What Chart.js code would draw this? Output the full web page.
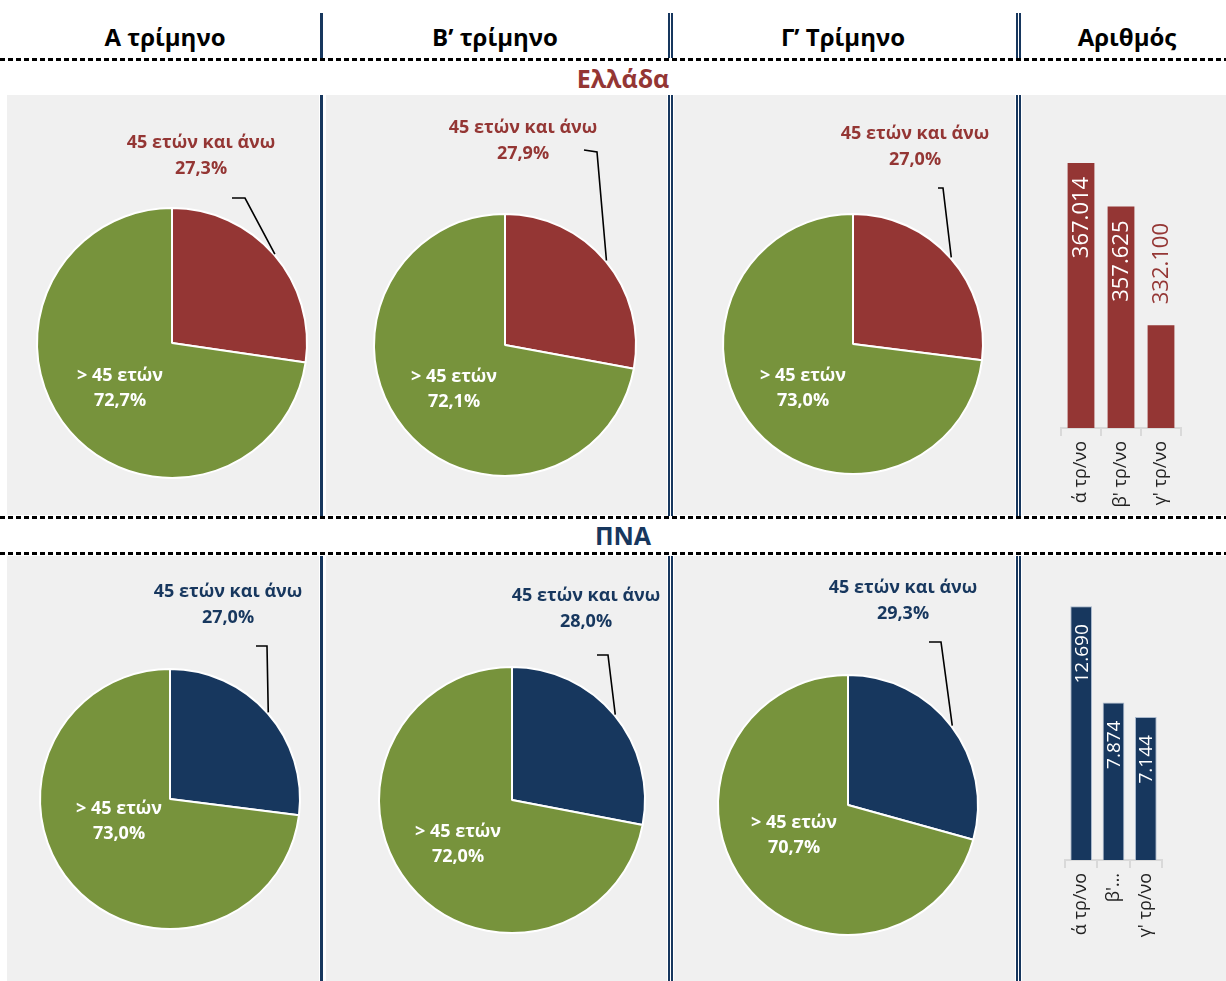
<!DOCTYPE html>
<html><head><meta charset="utf-8">
<script src="https://cdn.jsdelivr.net/npm/chart.js"></script>
<style>
  body { margin: 0; background: #fff; font-family: "Open Sans", sans-serif; }
  #page { position: relative; width: 1226px; height: 981px; overflow: hidden; background: #fff; }
  .panel { position: absolute; background: #f0f0f0; }
  .hdr { position: absolute; top: 20px; font-weight: bold; font-size: 24px; color: #000; text-align: center; white-space: nowrap; }
  .region { position: absolute; left: 18px; width: 1210px; font-weight: bold; font-size: 25px; text-align: center; }
  .dash { position: absolute; left: 0; width: 1226px; height: 3px;
    background: repeating-linear-gradient(to right, #000 0 5px, transparent 5px 8px); }
  .vline { position: absolute; background: #17375e; }
  canvas { position: absolute; }
</style>
</head>
<body>
<div id="page">
  <div class="panel" style="left:7px;top:95px;width:312px;height:420px"></div>
  <div class="panel" style="left:326px;top:95px;width:341px;height:420px"></div>
  <div class="panel" style="left:674px;top:95px;width:341px;height:420px"></div>
  <div class="panel" style="left:1022px;top:95px;width:204px;height:420px"></div>
  <div class="panel" style="left:7px;top:556px;width:312px;height:425px"></div>
  <div class="panel" style="left:326px;top:556px;width:341px;height:425px"></div>
  <div class="panel" style="left:674px;top:556px;width:341px;height:425px"></div>
  <div class="panel" style="left:1022px;top:556px;width:204px;height:425px"></div>

  <div id="headers"></div>
  <div class="dash" style="top:58px"></div>
  <div class="region" style="top:61px;color:#943634">Ελλάδα</div>
  <div class="dash" style="top:516px"></div>
  <div class="region" style="top:518px;color:#17375e">ΠΝΑ</div>
  <div class="dash" style="top:552px"></div>

  <div class="vline" style="left:320px;top:13px;width:3px;height:45px"></div>
  <div class="vline" style="left:320px;top:95px;width:3px;height:421px"></div>
  <div class="vline" style="left:320px;top:556px;width:3px;height:425px"></div>
  <div class="vline" style="left:668px;top:13px;width:2px;height:45px"></div>
  <div class="vline" style="left:671px;top:13px;width:2px;height:45px"></div>
  <div class="vline" style="left:668px;top:95px;width:2px;height:421px"></div>
  <div class="vline" style="left:671px;top:95px;width:2px;height:421px"></div>
  <div class="vline" style="left:668px;top:556px;width:2px;height:425px"></div>
  <div class="vline" style="left:671px;top:556px;width:2px;height:425px"></div>
  <div class="vline" style="left:1016px;top:13px;width:2px;height:45px"></div>
  <div class="vline" style="left:1019px;top:13px;width:2px;height:45px"></div>
  <div class="vline" style="left:1016px;top:95px;width:2px;height:421px"></div>
  <div class="vline" style="left:1019px;top:95px;width:2px;height:421px"></div>
  <div class="vline" style="left:1016px;top:556px;width:2px;height:425px"></div>
  <div class="vline" style="left:1019px;top:556px;width:2px;height:425px"></div>
</div>

<script>
// column headers
const columnTitles = ['Α τρίμηνο', 'Β’ τρίμηνο', 'Γ’ Τρίμηνο', 'Αριθμός'];

// pie slices: first = 45 and over, second = the rest
const sliceLabels = ['45 ετών και άνω', '> 45 ετών'];
const greeceOver45 = [27.3, 27.9, 27.0];
const greeceRest = [72.7, 72.1, 73.0];
const pnaOver45 = [27.0, 28.0, 29.3];
const pnaRest = [73.0, 72.0, 70.7];

// bar charts (counts per quarter)
const greeceBarLabels = ["ά τρ/νο", "β' τρ/νο", "γ' τρ/νο"];
const greeceCounts = [367014, 357625, 332100];
const pnaBarLabels = ["ά τρ/νο", "β'…", "γ' τρ/νο"];
const pnaCounts = [12690, 7874, 7144];

const RED = '#943634', GREEN = '#77933c', NAVY = '#17375e';
const FONT = '"Open Sans", sans-serif';

const page = document.getElementById('page');
const hdrCenters = [165, 495, 843, 1127];
columnTitles.forEach((t, i) => {
  const d = document.createElement('div');
  d.className = 'hdr';
  d.textContent = t;
  d.style.left = (hdrCenters[i] - 100) + 'px';
  d.style.width = '200px';
  page.appendChild(d);
});

function makeCanvas(x, y, w, h) {
  const c = document.createElement('canvas');
  c.width = w; c.height = h;
  c.style.left = x + 'px'; c.style.top = y + 'px';
  c.style.width = w + 'px'; c.style.height = h + 'px';
  page.appendChild(c);
  return c;
}

const pct = v => v.toFixed(1).replace('.', ',') + '%';
const thousands = v => String(v).replace(/\B(?=(\d{3})+(?!\d))/g, '.');

// labels + leader line for pies
const pieLabels = {
  id: 'pieLabels',
  afterDatasetsDraw(chart, args, o) {
    const ctx = chart.ctx;
    const arcs = chart.getDatasetMeta(0).data;
    const vals = chart.data.datasets[0].data;
    const a0 = arcs[0];
    const cx = a0.x, cy = a0.y, r = a0.outerRadius + 1;
    const mid = (a0.startAngle + a0.endAngle) / 2;

    ctx.save();
    // leader line
    ctx.strokeStyle = '#000';
    ctx.lineWidth = 1.6;
    ctx.beginPath();
    ctx.moveTo(cx + o.knee[0][0], cy + o.knee[0][1]);
    ctx.lineTo(cx + o.knee[1][0], cy + o.knee[1][1]);
    ctx.lineTo(cx + Math.cos(mid) * r, cy + Math.sin(mid) * r);
    ctx.stroke();

    ctx.font = 'bold 18px ' + FONT;
    ctx.textAlign = 'center';
    ctx.textBaseline = 'middle';
    ctx.fillStyle = o.color;
    ctx.fillText(chart.data.labels[0], cx + o.out[0], cy + o.out[1] - 13);
    ctx.fillText(pct(vals[0]), cx + o.out[0], cy + o.out[1] + 13);

    ctx.fillStyle = '#fff';
    ctx.fillText(chart.data.labels[1], cx + o.inn[0], cy + o.inn[1] - 12.5);
    ctx.fillText(pct(vals[1]), cx + o.inn[0], cy + o.inn[1] + 12.5);
    ctx.restore();
  }
};

function drawPie(box, cx, cy, r, over, rest, color, lbl) {
  const [bx, by, bw, bh] = box;
  const c = makeCanvas(bx, by, bw, bh);
  new Chart(c, {
    type: 'pie',
    data: {
      labels: sliceLabels,
      datasets: [{ data: [over, rest], backgroundColor: [color, GREEN], borderColor: '#fff', borderWidth: 2 }]
    },
    options: {
      responsive: false,
      animation: false,
      layout: { padding: { left: cx - r - bx, top: cy - r - by, right: bx + bw - cx - r, bottom: by + bh - cy - r } },
      plugins: {
        legend: { display: false },
        tooltip: { enabled: false },
        pieLabels: Object.assign({ color: color }, lbl)
      }
    },
    plugins: [pieLabels]
  });
}

// layout of pies: canvas box, centre, radius, label offsets from centre
const cols = [[7, 312], [326, 341], [674, 341]];
const upperPies = [
  { cx: 172, cy: 343, r: 136, out: [29, -187], inn: [-52, 45], knee: [[60, -145], [73, -145]] },
  { cx: 505, cy: 345, r: 132, out: [18, -204], inn: [-51, 44], knee: [[79, -195], [92, -193]] },
  { cx: 853, cy: 344, r: 131, out: [62, -197], inn: [-50, 44], knee: [[85, -156], [90, -156]] }
];
const lowerPies = [
  { cx: 170, cy: 799, r: 131, out: [58, -194], inn: [-51, 22], knee: [[86, -153], [97, -153]] },
  { cx: 512, cy: 800, r: 134, out: [74, -191], inn: [-54, 44], knee: [[85, -145], [96, -145]] },
  { cx: 848, cy: 805, r: 131, out: [55, -204], inn: [-54, 30], knee: [[81, -163], [93, -163]] }
];

upperPies.forEach((p, i) => {
  drawPie([cols[i][0], 95, cols[i][1], 420], p.cx, p.cy, p.r, greeceOver45[i], greeceRest[i], RED,
    { out: p.out, inn: p.inn, knee: p.knee });
});
lowerPies.forEach((p, i) => {
  drawPie([cols[i][0], 556, cols[i][1], 425], p.cx, p.cy, p.r, pnaOver45[i], pnaRest[i], NAVY,
    { out: p.out, inn: p.inn, knee: p.knee });
});

// value labels on bars, rotated
const barValues = {
  id: 'barValues',
  afterDatasetsDraw(chart, args, o) {
    const ctx = chart.ctx;
    const bars = chart.getDatasetMeta(0).data;
    const vals = chart.data.datasets[0].data;
    ctx.save();
    ctx.font = o.size + 'px ' + FONT;
    ctx.textBaseline = 'middle';
    bars.forEach((b, i) => {
      const inside = o.place[i] === 'in';
      ctx.save();
      ctx.translate(b.x + 1, inside ? b.y + o.padIn : b.y - o.padOut);
      ctx.rotate(-Math.PI / 2);
      ctx.textAlign = inside ? 'right' : 'left';
      ctx.fillStyle = inside ? '#fff' : o.color;
      ctx.fillText(thousands(vals[i]), 0, 0);
      ctx.restore();
    });
    ctx.restore();
  }
};

function drawBars(box, pad, labels, values, color, yMin, yMax, lbl, border) {
  const [bx, by, bw, bh] = box;
  const c = makeCanvas(bx, by, bw, bh);
  new Chart(c, {
    type: 'bar',
    data: {
      labels: labels,
      datasets: [{
        data: values, backgroundColor: color,
        borderColor: border || color, borderWidth: border ? 1 : 0,
        barPercentage: 0.67, categoryPercentage: 1
      }]
    },
    options: {
      responsive: false,
      animation: false,
      layout: { padding: pad },
      plugins: { legend: { display: false }, tooltip: { enabled: false }, barValues: lbl },
      scales: {
        x: {
          grid: { offset: true, drawOnChartArea: false, tickLength: 8, color: '#d9d9d9', lineWidth: 2 },
          border: { color: '#d9d9d9', width: 2 },
          ticks: { minRotation: 90, maxRotation: 90, autoSkip: false, padding: 5, color: '#222', font: { family: FONT, size: 18 } },
          afterFit(s) { s.height = 80; }
        },
        y: { display: false, min: yMin, max: yMax }
      }
    },
    plugins: [barValues]
  });
}

drawBars([1022, 95, 204, 420], { left: 39, right: 45, top: 54, bottom: 7 },
  greeceBarLabels, greeceCounts, RED, 310000, 370000,
  { size: 22, place: ['in', 'in', 'out'], padIn: 14, padOut: 21, color: RED });
drawBars([1022, 556, 204, 425], { left: 43, right: 64, top: 24, bottom: 41 },
  pnaBarLabels, pnaCounts, NAVY, 0, 14000,
  { size: 19, place: ['in', 'in', 'in'], padIn: 18, padOut: 20, color: NAVY }, '#a9b8cc');
</script>
</body></html>
